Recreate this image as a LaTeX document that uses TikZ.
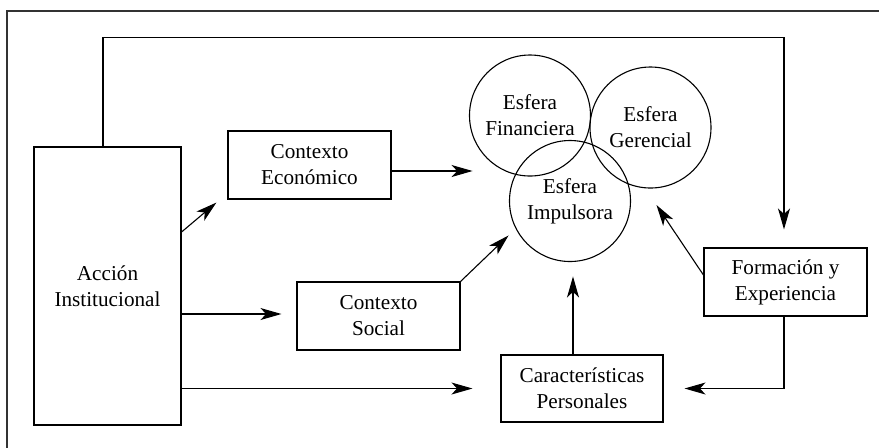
\documentclass[tikz,border=0pt]{standalone}
\usepackage{fontspec}
\setmainfont{Liberation Serif}
\usetikzlibrary{arrows.meta}
\begin{document}
\begin{tikzpicture}[x=0.5pt,y=-0.5pt,
  every node/.style={font=\fontsize{10.6}{13}\selectfont, align=center, inner sep=0pt},
  box/.style={draw, line width=0.55pt},
  sphere/.style={draw, circle, line width=0.55pt, minimum size=60.5pt},
  arr/.style={line width=0.55pt, -{Stealth[length=10.5pt,width=6pt,inset=2.8pt]}},
  ln/.style={line width=0.55pt}]
\useasboundingbox (0,0) rectangle (879,447);
\begin{scope}
\clip (0,0) rectangle (879,447);
\draw[line width=0.8pt, black!80] (7,11) rectangle (900,470);
\end{scope}
% boxes
\node[box, minimum width=73.5pt, minimum height=139pt] (A) at (107.5,286) {Acción\\Institucional};
\node[box, minimum width=81.5pt, minimum height=34pt] (CE) at (309.5,165) {Contexto\\Económico};
\node[box, minimum width=81.5pt, minimum height=34pt] (CS) at (378.5,316) {Contexto\\Social};
\node[box, minimum width=81pt, minimum height=33.5pt] (Car) at (582,388.5) {Características\\Personales};
\node[box, minimum width=81.5pt, minimum height=34pt] (For) at (785.5,282) {Formación y\\Experiencia};
% spheres
\node[sphere] (F) at (530,115.5) {Esfera\\Financiera};
\node[sphere] (G) at (650.5,127.5) {Esfera\\Gerencial};
\node[sphere] (I) at (570,201) {Esfera\\Impulsora};
% connectors
\coordinate (top) at (500,37.7);
\draw[arr, shorten >=9pt] ([xshift=-2.25pt]A.north) |- (top) -| ([xshift=-0.75pt]For.north);
\draw[arr] ([yshift=27pt]A.east) -- ([xshift=-5.5pt,yshift=-1.5pt]CE.south west);
\draw[arr] ([yshift=-3pt]CE.east) -- ++(40.5pt,0);
\draw[arr, shorten >=7.5pt] ([yshift=1pt]A.east |- CS.west) -- ([yshift=1pt]CS.west);
\draw[arr] (CS.north east) -- ++(24pt,23pt);
\draw[arr, shorten >=14pt] (A.east |- Car.west) -- (Car.west);
\draw[arr] ([xshift=-4.5pt]Car.north) -- ++(0,39pt);
\draw[arr] ([yshift=3.5pt]For.west) -- ++(-23.5pt,35pt);
\draw[arr, shorten >=10.5pt] ([xshift=-0.75pt]For.south) |- (Car.east);
\end{tikzpicture}
\end{document}
